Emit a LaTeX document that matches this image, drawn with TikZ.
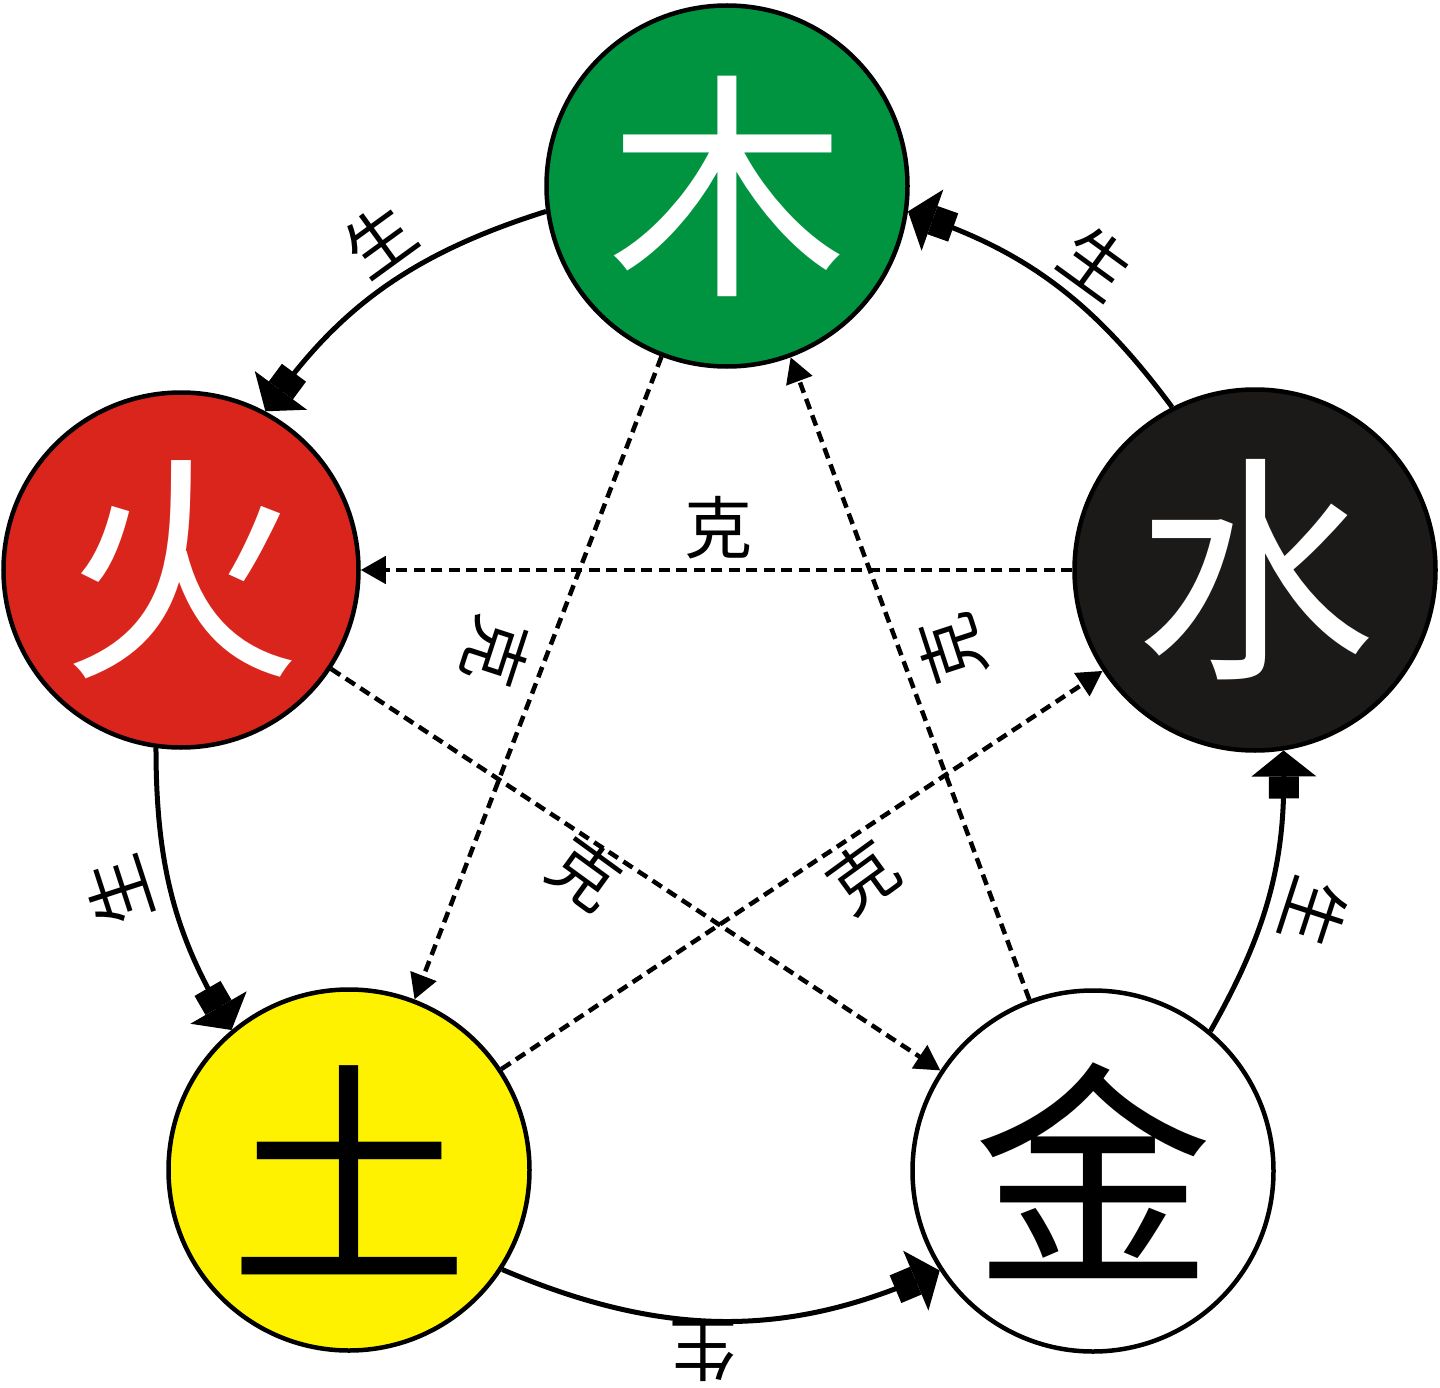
\documentclass[tikz,border=0pt]{standalone}
\usepackage{fontspec}
\newfontfamily\cjk{Noto Sans CJK SC}
\usetikzlibrary{arrows.meta}
\definecolor{wgreen}{RGB}{0,148,64}
\definecolor{wred}{RGB}{218,37,29}
\definecolor{wblack}{RGB}{28,26,25}
\definecolor{wyellow}{RGB}{255,242,0}
\begin{document}
\begin{tikzpicture}[x=1pt,y=1pt,
  elem/.style={circle, draw=black, line width=4.5pt, minimum size=361pt, inner sep=0pt,
    font=\cjk\fontsize{240}{240}\selectfont},
  lbl/.style={font=\cjk\fontsize{68}{68}\selectfont, inner sep=0pt},
  sheng/.style={line width=5pt, -{Rectangle[length=22pt,width=30pt]Triangle[length=26pt,width=64pt]}},
  ke/.style={line width=4.5pt, dash pattern=on 11pt off 6.5pt, -{Triangle[length=25pt,width=27pt]}},
]
\useasboundingbox (0,0) rectangle (1440,-1388);
\fill[white] (0,0) rectangle (1440,-1388);
% elements
\node[elem, fill=wgreen, text=white] (mu) at (727,-186) {木};
\node[elem, fill=wred, text=white, minimum size=355pt] (huo) at (181,-570) {火};
\node[elem, fill=wblack, text=white] (shui) at (1255,-570) {水};
\node[elem, fill=wyellow, text=black] (tu) at (349,-1170) {土};
\node[elem, fill=white, text=black] (jin) at (1093,-1171) {金};
% generating cycle
\draw[sheng] (mu.188) to[bend right=18] (huo.62);
\draw[sheng] (huo.262) to[bend right=15] (tu.130);
\draw[sheng] (tu.-33) to[bend right=23] (jin.213);
\draw[sheng] (jin.50) to[bend right=15] (shui.-81);
\draw[sheng] (shui.117) to[bend right=17] (mu.-8);
% controlling cycle
\draw[ke] (shui) -- (huo);
\draw[ke] (mu) -- (tu);
\draw[ke] (tu) -- (shui);
\draw[ke] (huo) -- (jin);
\draw[ke] (jin) -- (mu);
% labels
\node[lbl, rotate=36] (s1) at (379,-240) {生};
\node[lbl, rotate=-36] (s2) at (1097,-263) {生};
\node[lbl, rotate=108] (s3) at (118,-891) {生};
\node[lbl, rotate=-108] (s4) at (1315,-913) {生};
\node[lbl, rotate=180] (s5) at (703,-1351) {生};
\node[lbl] (k1) at (718,-528) {克};
\node[lbl, rotate=-108] (k2) at (497,-652) {克};
\node[lbl, rotate=108] (k3) at (951,-649) {克};
\node[lbl, rotate=-36] (k4) at (585,-874) {克};
\node[lbl, rotate=36] (k5) at (863,-877) {克};
\end{tikzpicture}
\end{document}
